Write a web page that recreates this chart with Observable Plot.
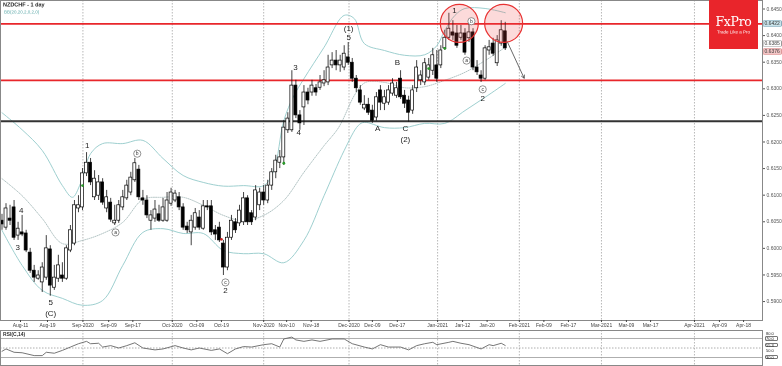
<!DOCTYPE html>
<html><head><meta charset="utf-8">
<script src="https://cdn.jsdelivr.net/npm/d3@7"></script>
<script src="https://cdn.jsdelivr.net/npm/@observablehq/plot@0.6"></script>
<style>
body{margin:0;background:#fff;}
#c{position:relative;width:782px;height:366px;font-family:"Liberation Sans",Arial,sans-serif;overflow:hidden;background:#fff;}
#c svg{position:absolute;left:0;will-change:transform;}
.ov{position:absolute;white-space:nowrap;line-height:1;will-change:transform;}
</style></head><body><div id="c"></div>
<script>
// ---- data (trading-day index: 0 = 1 Sep 2020) ----
const firstIdx = -20;
const open  = [.6052,.6039,.6056,.6077,.6024,.6030,.6028,.5992,.5958,.5943,.5936,.5945,.5998,.5926,.5943,.5949,.5943,.5996,.6009,.6075,
.6077,.6141,.6161,.6096,.6099,.6124,.6075,.6086,.6047,.6052,.6077,.6094,.6105,.6128,.6148,.6094,.6090,.6052,.6056,.6064,
.6052,.6052,.6084,.6090,.6096,.6077,.6041,.6030,.6039,.6058,.6037,.6079,.6079,.6034,.6039,.6009,.5964,.6020,.6049,.6047,
.6049,.6094,.6066,.6058,.6081,.6105,.6090,.6118,.6143,.6161,.6171,.6222,.6222,.6306,.6250,.6265,.6293,.6293,.6301,.6302,
.6310,.6312,.6344,.6353,.6344,.6340,.6359,.6349,.6319,.6297,.6263,.6270,.6259,.6246,.6297,.6272,.6274,.6291,.6287,.6319,
.6287,.6278,.6259,.6301,.6316,.6312,.6321,.6334,.6344,.6344,.6376,.6396,.6406,.6404,.6396,.6404,.6395,.6406,.6340,.6325,
.6319,.6372,.6385,.6348,.6385,.6408];
const high  = [.6064,.6084,.6081,.6090,.6049,.6062,.6034,.6000,.5968,.5958,.5973,.6024,.6005,.5968,.5987,.5973,.6005,.6043,.6090,.6099,
.6150,.6180,.6169,.6146,.6137,.6131,.6109,.6094,.6081,.6090,.6109,.6128,.6143,.6169,.6156,.6109,.6099,.6071,.6090,.6081,
.6094,.6105,.6113,.6109,.6105,.6084,.6049,.6062,.6075,.6071,.6090,.6090,.6090,.6043,.6049,.6015,.6030,.6062,.6056,.6081,
.6105,.6099,.6071,.6118,.6113,.6118,.6128,.6150,.6175,.6184,.6240,.6255,.6334,.6316,.6259,.6306,.6301,.6316,.6308,.6325,
.6334,.6363,.6368,.6372,.6363,.6381,.6387,.6357,.6325,.6306,.6287,.6282,.6269,.6293,.6306,.6297,.6306,.6319,.6312,.6334,
.6297,.6286,.6306,.6353,.6334,.6357,.6357,.6376,.6372,.6381,.6410,.6442,.6428,.6419,.6419,.6413,.6428,.6413,.6353,.6334,
.6381,.6391,.6395,.6400,.6428,.6425];
const low   = [.6034,.6034,.6043,.6015,.6015,.6022,.5992,.5953,.5936,.5940,.5917,.5940,.5910,.5921,.5936,.5936,.5940,.5992,.6005,.6067,
.6071,.6135,.6118,.6090,.6090,.6081,.6067,.6049,.6043,.6047,.6071,.6090,.6099,.6124,.6090,.6081,.6056,.6034,.6049,.6049,
.6049,.6049,.6079,.6086,.6071,.6034,.6028,.6005,.6034,.6034,.6034,.6071,.6024,.6015,.6011,.5949,.5958,.6015,.6028,.6041,
.6043,.6043,.6043,.6052,.6071,.6081,.6084,.6109,.6131,.6150,.6156,.6216,.6218,.6244,.6222,.6231,.6270,.6286,.6286,.6297,
.6304,.6306,.6338,.6334,.6331,.6334,.6344,.6312,.6293,.6269,.6259,.6250,.6235,.6239,.6259,.6259,.6269,.6286,.6282,.6280,
.6263,.6237,.6252,.6293,.6306,.6306,.6316,.6325,.6312,.6338,.6372,.6391,.6391,.6376,.6391,.6363,.6387,.6334,.6325,.6312,
.6316,.6363,.6361,.6342,.6380,.6372];
const close = [.6045,.6075,.6052,.6020,.6037,.6026,.5996,.5958,.5945,.5949,.5964,.6000,.5930,.5945,.5968,.5943,.6000,.6034,.6081,.6081,
.6141,.6161,.6124,.6131,.6124,.6086,.6096,.6054,.6052,.6081,.6096,.6118,.6133,.6160,.6096,.6090,.6062,.6062,.6073,.6052,
.6077,.6090,.6105,.6103,.6077,.6039,.6034,.6052,.6066,.6039,.6079,.6077,.6030,.6026,.6015,.5964,.6020,.6052,.6034,.6071,
.6094,.6049,.6049,.6109,.6105,.6090,.6118,.6143,.6165,.6171,.6227,.6244,.6306,.6250,.6235,.6293,.6278,.6306,.6293,.6312,
.6316,.6340,.6353,.6344,.6353,.6366,.6349,.6319,.6301,.6274,.6270,.6255,.6240,.6284,.6274,.6284,.6297,.6310,.6301,.6284,
.6272,.6255,.6297,.6340,.6325,.6348,.6344,.6363,.6319,.6372,.6396,.6413,.6400,.6381,.6404,.6368,.6406,.6340,.6331,.6319,
.6376,.6378,.6366,.6391,.6410,.6376];

// Bollinger bands (20, 2)
const bbUpperIdx = [-20,-15,-10,-5,-2.5,-0.5,2,5,10,15,20,25,30,35,40,45,47.5,50,52.5,55,60,65,67.5,70,75,80,85,88,90,92.5,95,100,105];
const bbUpper    = [.6255,.6223,.6184,.6118,.6096,.6122,.6178,.6197,.6197,.6203,.6169,.6137,.6124,.6117,.6118,.6118,.6146,.6240,.6287,.6319,.6378,.6438,.6432,.6385,.6372,.6363,.6364,.6381,.6410,.6438,.6451,.6451,.6443];
const bbMidIdx   = [-20,-15,-10,-5,0,5,10,15,20,25,30,35,40,45,50,55,60,63.6,67.8,70.3,75,80,85,90,95,100,105];
const bbMid      = [.6131,.6099,.6056,.6009,.6015,.6028,.6049,.6092,.6096,.6096,.6081,.6062,.6052,.6062,.6090,.6143,.6193,.6227,.6291,.6312,.6312,.6302,.6304,.6316,.6331,.6353,.6378];
const bbLowerIdx = [-20,-15,-10,-5,0,5,10,15,20,25,30,35,40,45,50,55,60,65,68.5,70,75,80,85,90,95,100,105];
const bbLower    = [.6034,.5968,.5921,.5906,.5893,.5902,.5968,.6030,.6037,.6028,.6028,.5996,.5990,.5990,.5973,.6015,.6099,.6184,.6231,.6237,.6227,.6227,.6235,.6235,.6259,.6284,.6310];

// RSI(14)
const rsiIdx = [-20,-19,-17,-15,-12,-10,-9,-7,-5,-3,-1,1,2,4,5,7,9,11,13,15,18,20,23,25,27,29,32,34,36,38,40,42,45,47,49,50,52,53,55,57,59,62,65,67,70,72,74,76,79,81,83,85,87,88,91,92,94,96,99,101,102,104,105];
const rsiVal = [43,48,41,40,34,34,41,39,45,52,59,64,59,60,52,55,50,55,61,50,46,48,55,50,46,50,45,48,38,48,53,52,57,59,52,69,73,67,64,67,64,69,69,59,52,48,57,52,52,46,55,59,62,57,62,64,60,57,48,57,55,60,55.3];
const rsiLevels = [70, 30];
const rsiMidLevel = 50;

// axis ticks
const tickIdx = [-15.4,-8.7,0.1,6.5,12.5,22.3,28.4,34.5,45,50.7,56.8,66.2,72,78.2,88.2,94.4,100.5,108.5,114.6,120.7,128.9,135.1,141.1,152,158.2,164.2];
const tickLabels = ["Aug-11","Aug-19","Sep-2020","Sep-09","Sep-17","Oct-2020","Oct-09","Oct-19","Nov-2020","Nov-10","Nov-18","Dec-2020","Dec-09","Dec-17","Jan-2021","Jan-12","Jan-20","Feb-2021","Feb-09","Feb-17","Mar-2021","Mar-09","Mar-17","Apr-2021","Apr-09","Apr-18"];
const priceTicks = [0.5900,0.5950,0.6000,0.6050,0.6100,0.6150,0.6200,0.6250,0.6300,0.6350,0.6400,0.6450];

// levels & annotations
const resistanceLevels = [0.6422, 0.6316];
const supportLevels = [0.6239];
const circleIdx = [93.6, 104.6];
const circlePrice = [0.6423, 0.6423];
const arrowFrom = [105.6, 0.6387];
const arrowTo = [109.7, 0.6320];
const waveText  = ["4","3","5","(C)","1","2","3","4","(1)","5","A","B","C","(2)","1","2"];
const waveIdx   = [-15.2,-16.1,-7.9,-7.9,1.2,35.5,52.9,53.7,66.1,66.1,73.3,78.2,80.2,80.2,92.4,99.4];
const wavePrice = [.6071,.6002,.5898,.5877,.6193,.5921,.6340,.6218,.6413,.6396,.6225,.6349,.6225,.6205,.6447,.6282];
const subText  = ["a","b","c","a","b","c"];
const subIdx   = [8.2,13.6,35.5,95.4,96.6,99.4];
const subPrice = [.6030,.6178,.5936,.6353,.6427,.6299];
const signalIdx = [0,50,86,90,34.5];
const signalPrice = [.6118,.6160,.6338,.6376,.6017];
const signalColor = ["#2a9a2a","#2a9a2a","#2a9a2a","#2a9a2a","#cc2222"];
const priceBoxes = [["0.6422",0.6422,"#c9e3ea","#8ab"],["0.6385",0.6385,"#fff","#999"],["0.6376",0.6370,"#f3c6c6","#d99"]];
const rsiBoxes = [["80.0",80,false],["70.0",70,true],["55.3",55.3,true],["50.0",50,false],["30.0",30,true]];

// ---- build ----
const candles = open.map((o,i)=>({i:firstIdx+i,o,h:high[i],l:low[i],c:close[i]}));
const pts = (xs,ys)=>xs.map((x,k)=>({i:x,v:ys[k]}));
const monthIdx = tickIdx.filter((d,k)=>/-20\d\d$/.test(tickLabels[k]));
const labelOf = new Map(tickIdx.map((d,k)=>[d,tickLabels[k]]));
const xDomain = [-20.37, 168.9];
const rsiDomain = [13.16, 86.84];
const font = {fontFamily:"'Liberation Sans',Arial,sans-serif", background:"transparent", overflow:"visible"};
const c = document.getElementById("c");

// RSI value labels: scale position, pushed down just enough not to collide
const rScale = Plot.scale({y:{domain:rsiDomain, range:[35,0]}});
let prevPy = -99;
const rsiLab = rsiBoxes.map(([t,v,boxed])=>{
  const py = Math.max(rScale.apply(v), prevPy + 5); prevPy = py;
  return {t, v:rScale.invert(py), boxed, py};
});
// label boxes (behind the svg text)
for(const d of rsiLab){
  if(!d.boxed) continue;
  const b=document.createElement("div");
  Object.assign(b.style,{position:"absolute",left:"764.5px",top:(330+d.py-2.4)+"px",width:"13px",height:"4.8px",border:"0.5px solid #777",borderRadius:"1px",background:"#fff",boxSizing:"border-box"});
  c.appendChild(b);
}

const main = Plot.plot({
  width:782, height:330, marginLeft:0, marginRight:20, marginTop:0, marginBottom:10,
  style:font,
  x:{domain:xDomain, axis:null},
  y:{domain:[0.58644,0.6466], axis:null},
  marks:[
    Plot.ruleX(monthIdx,{stroke:"#9a9a9a",strokeWidth:0.7,strokeDasharray:"1.5,1.5"}),
    Plot.line(pts(bbUpperIdx,bbUpper),{x:"i",y:"v",stroke:"#93c9c9",strokeWidth:0.9,curve:"catmull-rom"}),
    Plot.line(pts(bbLowerIdx,bbLower),{x:"i",y:"v",stroke:"#93c9c9",strokeWidth:0.9,curve:"catmull-rom"}),
    Plot.line(pts(bbMidIdx,bbMid),{x:"i",y:"v",stroke:"#9fb5b5",strokeWidth:0.8,strokeDasharray:"1,1.2",curve:"catmull-rom"}),
    Plot.ruleY(resistanceLevels,{stroke:"#e8262b",strokeWidth:1.8}),
    Plot.ruleY(supportLevels,{stroke:"#333",strokeWidth:1.8}),
    Plot.ruleX(candles,{x:"i",y1:"l",y2:"h",stroke:"#111",strokeWidth:0.8}),
    Plot.rect(candles,{x1:d=>d.i-0.37,x2:d=>d.i+0.37,y1:"o",y2:"c",fill:d=>d.c>=d.o?"#fff":"#000",stroke:"#000",strokeWidth:0.7}),
    Plot.dot(signalIdx.map((x,k)=>({i:x,v:signalPrice[k],col:signalColor[k]})),{x:"i",y:"v",r:1.4,fill:d=>d.col,stroke:"none"}),
    Plot.dot(circleIdx.map((x,k)=>({i:x,v:circlePrice[k]})),{x:"i",y:"v",r:19,fill:"rgba(238,70,70,0.2)",stroke:"#e83232",strokeWidth:1.2}),
    Plot.arrow([{x1:arrowFrom[0],y1:arrowFrom[1],x2:arrowTo[0],y2:arrowTo[1]}],{x1:"x1",y1:"y1",x2:"x2",y2:"y2",stroke:"#444",strokeWidth:0.8,headLength:6}),
    Plot.text(waveText.map((t,k)=>({t,i:waveIdx[k],v:wavePrice[k]})),{x:"i",y:"v",text:"t",fontSize:8,fill:"#222"}),
    Plot.dot(subText.map((t,k)=>({t,i:subIdx[k],v:subPrice[k]})),{x:"i",y:"v",r:3.6,fill:"#fff",stroke:"#666",strokeWidth:0.7}),
    Plot.text(subText.map((t,k)=>({t,i:subIdx[k],v:subPrice[k]})),{x:"i",y:"v",text:"t",fontSize:5,fill:"#333"}),
    Plot.frame({stroke:"#888",strokeWidth:1}),
    Plot.axisY({anchor:"right",ticks:priceTicks,tickFormat:d=>d.toFixed(4),fontSize:5,tickSize:2,tickPadding:2,color:"#555"}),
    Plot.axisX({anchor:"bottom",ticks:tickIdx,tickFormat:d=>labelOf.get(d),fontSize:5,tickSize:2,tickPadding:1,color:"#444"})
  ]
});
main.style.top = "0px";
c.appendChild(main);

const rsi = Plot.plot({
  width:782, height:35, marginLeft:0, marginRight:20, marginTop:0, marginBottom:0,
  style:font,
  x:{domain:xDomain, axis:null},
  y:{domain:rsiDomain, axis:null},
  marks:[
    Plot.ruleX(monthIdx,{stroke:"#9a9a9a",strokeWidth:0.7,strokeDasharray:"1.5,1.5"}),
    Plot.ruleY(rsiLevels,{stroke:"#999",strokeWidth:0.8}),
    Plot.ruleY([rsiMidLevel],{stroke:"#999",strokeWidth:0.8,strokeDasharray:"1.5,1.5"}),
    Plot.line(pts(rsiIdx,rsiVal),{x:"i",y:"v",stroke:"#666",strokeWidth:0.9}),
    Plot.frame({stroke:"#888",strokeWidth:1}),
    Plot.text(rsiLab,{y:"v",text:"t",frameAnchor:"right",dx:3.5,textAnchor:"start",fontSize:4,fill:"#222"})
  ]
});
rsi.style.top = "330px";
c.appendChild(rsi);

// overlays (positions from library scales); tiny text drawn at 2x and scaled down
const ys = main.scale("y");
function ov(html, css){const d=document.createElement("div");d.className="ov";d.textContent=html;Object.assign(d.style,css);c.appendChild(d);return d;}
function small(t, left, top, size, css={}){
  return ov(t, Object.assign({left:left+"px", top:top+"px", fontSize:(size*2)+"px", transform:"scale(0.5)", transformOrigin:"0 0"}, css));
}
small("NZDCHF - 1 day", 3, 2, 5.5, {fontWeight:"bold", color:"#222"});
small("BB(20,20,2,0,2,0)", 4, 10, 4.5, {color:"#5aa8a8"});
small("RSI(C,14)", 3, 332, 5, {fontWeight:"bold", color:"#333"});
for(const [t,v,bg,bd] of priceBoxes){
  small(t, 763, ys.apply(v)-3.3, 5, {color:"#333", background:bg, border:"1px solid "+bd, borderRadius:"3px", padding:"1px 2px"});
}
ov("",{left:"709px",top:"0px",width:"49px",height:"49px",background:"#e9252b"});
ov("FxPro",{left:"709px",top:"16px",width:"49px",textAlign:"center",fontFamily:"'DejaVu Serif',serif",fontSize:"12.5px",color:"#fff",letterSpacing:"-0.3px"});
small("Trade Like a Pro", 709, 30, 4.5, {width:"98px", textAlign:"center", color:"#fff"});
</script>
</body></html>
